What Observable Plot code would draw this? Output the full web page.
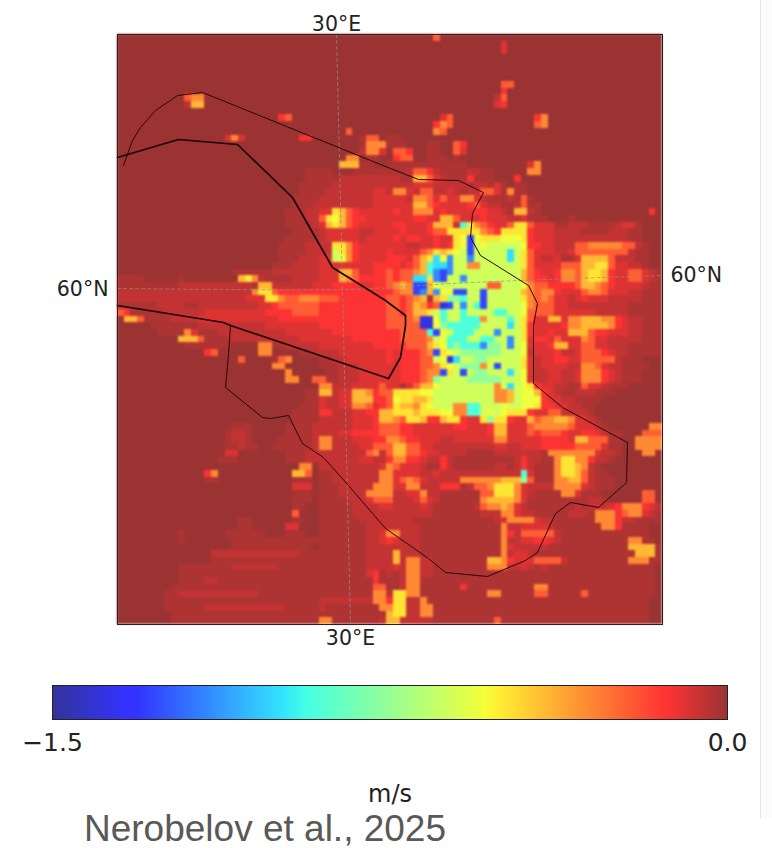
<!DOCTYPE html>
<html><head><meta charset="utf-8">
<script src="https://cdn.jsdelivr.net/npm/d3@7"></script>
<script src="https://cdn.jsdelivr.net/npm/@observablehq/plot@0.6"></script>
<style>
html,body{margin:0;padding:0;background:#fff;width:772px;height:848px;overflow:hidden}
#map,#bar{position:absolute;left:0}
#map{top:0}#bar{top:660px}
#map g[aria-label="rect"]{filter:blur(.8px)}
#cap{position:absolute;left:84px;top:811px;font:37px/36px "Liberation Sans",Arial,sans-serif;color:#595959;white-space:nowrap}
#edge{position:absolute;left:760px;top:0;width:12px;height:818px;background:#fbfbfb;border-left:1px solid #e6e6e6}
</style></head><body>
<div id="edge"></div><div id="map"></div><div id="bar"></div><div id="cap">Nerobelov et al., 2025</div>
<script>
// Wind-speed change, one character per grid cell (index into levelValues)
const gridRows = [
"0000000000 0000000000 0000000000 0000000000 0000000500 0000000000 0000000000 00000000000",
"0000000000 0000000000 0000000000 0000000000 0000000000 0000000300 0000000000 00000000000",
"0000000000 0000000000 0000000000 0000000000 0000000000 0000000300 0000000000 00000000000",
"0000000000 0000000000 0000000000 0000000000 0000000000 0000000000 0000000000 00000000000",
"0000000000 0000000000 0000000000 0000000000 0000000000 0000000000 0000000000 00000000000",
"0000000000 0000000000 0000000000 0000000000 0000000000 0000000000 0000000000 00000000000",
"0000000000 0000000000 0000000000 0000000000 0000000000 0000000000 0000000000 00000000000",
"0000000000 0000000000 0000000000 0000000000 0000000000 0000000550 0000000000 00000000000",
"0000000000 0000000000 0000000000 0000000000 0000000000 0000000400 0000000000 00000000000",
"0000000000 5660000000 0000000000 0000000000 0000000000 0000002500 0000000000 00000000000",
"0000000000 2770000000 0000000000 0000000000 0000000000 0000003400 0000000000 00000000000",
"0000000000 0000000000 0000000000 0000000000 0000000000 0000000000 0000000000 00000000000",
"0000000000 0000000000 0000450000 0000000000 0000000035 0000000000 0046000000 00000000000",
"0000000000 0000000000 0000000000 0000000000 0000000465 0000000000 0056000000 00000000000",
"0000000000 0000000000 0000000000 0000500000 0000000650 0000000000 0000000000 00000000000",
"0000000000 0000003630 0000000440 0000001550 1100000000 0000000000 0000000000 00000000000",
"0000000000 0000000000 0000000000 0000001666 1110001100 5400000000 0000000000 00000000000",
"0000000000 0000000000 0000000000 0000002663 0554001100 5300000000 0000000000 00000000000",
"0000000000 0000000000 0000000000 0000660110 0455001110 1000000000 0000000000 00000000000",
"0000000000 0000000000 0000000000 0007771100 1111111111 1100000000 0360000000 00000000000",
"0000000000 0000000000 0000000011 1100011111 1112554211 1122110000 0660000000 00000000000",
"0000000000 0000000000 0000000011 1112222222 2211775321 1141110004 0000000000 00000000000",
"0000000000 0000000000 0000000111 1122222222 2222333222 2212213101 1000000000 00000000000",
"0000000000 0000000000 0000000111 1222222233 2663255223 2122553161 1000000000 00000000000",
"0000000000 0000000000 0000001111 2222222233 3332665353 3663211121 5100000000 00000000000",
"0000000000 0000000000 0000001112 2222222233 3333775433 3345322112 5110000000 00000000000",
"0000000000 0000000000 0000011122 3387543333 3433666343 3334433217 7210000000 00000000040",
"0000000000 0000000000 0000011122 5897544333 3333443377 5333433322 3111000100 00000000000",
"0000000000 0000000000 0000011112 3787543333 3443334777 2c86543358 8533311222 11112331000",
"0000000000 0000000000 0000001111 2333332233 3343334558 8888654888 8433322221 11122211000",
"0000000000 0000000000 0000011111 2333332333 3434433433 89f9888999 8433322222 22222211000",
"0000000000 0000000000 0000111122 2288643333 3332233434 89fa9aaaaa 9443322255 66666552100",
"0000000000 0000000000 0000111122 22a8643333 4333356878 9afaaaaada 8533322355 55555521100",
"0000000000 0000000000 0000111222 33a9643333 4443578d9e aaeaaaaada 8532231137 77752221100",
"0000000000 0000000000 0001112222 3333333344 443457cdde aa66aaaaaa 8533335557 78853322100",
"0000000000 0000000111 1112222222 3337753344 545567cefe aaaaaaaaaa 7543346657 88743355321",
"1111000001 0000000078 6211112222 3337654444 5455dd8efa aeaaaaaaaa 7544346657 88743355321",
"1111111112 2222222222 1772222223 3344443344 5676ff79aa aaaaa55aaa 9655444457 76543333211",
"2222222222 2222222222 6885444444 4444444444 4566fe7e99 ffaafaaaaa 7656643335 66533322111",
"2222222222 2222222223 3388655666 5554444444 554567178b bcaafaaaaa 8656533234 33322222111",
"1111112222 1122222222 2334555555 4444444444 55457645gf aeacfaaaaa 9655533222 22222211111",
"5411111222 2223333333 3344445555 4444444444 5545778aca acaaaaccaa 9555533333 32222211111",
"0775111122 2233333333 3333444444 4444444444 55556gg9ca accc6aaaca 8533773667 77664322111",
"0000011111 1122222222 2233333333 4444444444 55555gg9bc ccccaaaada 8433334667 77764322111",
"0000001111 6311122222 2222233333 3344444444 445555cf9a cccaaaeaaa 8433433777 54433322111",
"0000000007 7751111222 2222222333 3333344444 4455556a9c ccaaccaaea 8344353336 53322222111",
"0000000000 1111111000 0661122222 3333333344 444555789c bcccebbaea 9333477335 53322211111",
"0000000000 0004500000 0660000112 2223333333 4344456f89 abbbbbbaaa 9233342235 55432211111",
"0000000000 0000000050 0001560000 1122333333 4344455a9g daabbaaaaa 8323344335 55552111000",
"0000000000 0000000000 0006600000 1112223333 3344455689 abbb6afaaa 8323333226 65322111100",
"0000000000 0000000000 0000060000 0112223333 33444566f8 afabbaaada 9322332236 66432111000",
"0000000000 0000000000 0000066005 5112223333 3344456baa aabbbbbaaa 9322332236 66432111000",
"0000000000 0000000000 0000000000 6622233335 33135779aa aaaaaa6ada 9843322115 33211100000",
"0000000000 0000000000 0000000011 7723377645 5888899aaa aaaaaa667a 9974321122 21110000000",
"0000000000 0000000000 0000000011 3223377744 5988778aaa aaaaaa667a 9994332211 11000000000",
"0000000000 0000000000 0000000111 3223366534 5877689aaa 66ccaaa9aa 9984433221 10000000000",
"0000000000 0000000000 0000001111 4422233447 7888788899 66cca9a988 8433552222 10000000000",
"0000000000 0000000000 0000001111 2222233347 7658874478 84338b8843 3756677633 21000000000",
"0000000000 0000000111 0000011112 2222233345 5544333333 4433347733 3566666533 32100000066",
"0000000000 0000001221 0000011112 2223344445 5544333333 3333347733 3545554334 43211000555",
"0000000000 0000001221 0000111112 6622233344 6654433322 3333336633 3334444377 55511006666",
"0000000000 0000001121 1001111112 6622223355 5775533222 2222223322 3334444455 55311006666",
"0000000000 0000003300 0000011122 2222222562 5775543322 2211112222 2221666666 63221000660",
"0000000000 0000011100 0000011122 2222223322 4664432242 1111111112 4221168866 42210000000",
"0000000000 0000000000 0000000660 2222222223 6533321142 1111112212 4211168876 21000000000",
"0000000000 0004600000 0000007750 1122222226 6333322322 2222222222 c311168875 21100000000",
"0000000000 0001100000 0000001110 1122222226 6356532222 2666666777 b511166775 21110000000",
"0000000000 0000000000 0000003330 1112222266 6336622244 4125568886 3222266663 21110000000",
"0000000000 0000000000 0000001110 1112222666 6223362211 1111558886 3211116631 11000000550",
"0000000000 0000000000 0000001110 1111222355 5222353211 1111677776 3111111111 22100000550",
"0000000000 0000000000 0000001100 1111122223 3222232111 1112566763 2111111121 22234666432",
"0000000000 0000000000 0000005000 1111122222 2222222111 1111222663 2211111222 16664566321",
"0000000000 0000000011 0000001100 1111112222 2222111111 1111112366 6632211111 16664221111",
"0000000000 0000000011 0000033000 1111111222 2222211111 1111111622 3333211111 11664111100",
"0000000001 0000001111 1100011100 1111111223 6622211111 1111111642 5555521111 11111111100",
"0000000001 0000000111 1111111111 1111111223 4322211111 1111111622 3344321111 11111166110",
"0000000000 0000000111 1111111110 1111111222 2222211111 1111111632 2222111111 11111177771",
"0000000000 0000222222 2222222111 1111111222 2722211111 1111111623 3211111111 11111117771",
"0000000000 0000111111 1111111111 1111111222 2726622111 1111177643 3355552111 11111166611",
"0000000001 1111111222 2222111111 1111111222 2326622111 1111166622 3212111111 11111111110",
"0000000001 1111111111 1111111111 1111111341 2126622111 1111111111 1111111111 11111111110",
"0000000001 1112211111 1111111111 1111111141 1126611111 1111111111 1111111111 11111111110",
"0000000011 1111111111 1111111111 1111111155 1126611111 1411111111 1166111111 11111111110",
"0000000112 2222222222 2111111111 1111111166 2886611111 1111166111 1155111115 11111111110",
"0000000111 1111111111 1111111111 2222222266 4882261111 1111111111 1111111111 11111111100",
"0000000111 1112222222 2222211111 2111111116 6882266111 1111111111 1111111111 11111111100",
"0000000011 1111111111 1111111111 1111111111 7882266111 1111111111 1111111111 11111111100",
"0000000011 1111111111 1111111111 6611111112 7722222111 1111115111 1111111111 11111111100"
];
const levelChars  = "0123456789abcdefg";
const levelValues = [-0.003,-0.028,-0.055,-0.09,-0.13,-0.22,-0.31,-0.40,-0.49,-0.55,-0.62,-0.76,-0.91,-1.0,-1.15,-1.28,-1.38];

// Jet with 80 % opacity over white, as on the colour bar
const jetValues = [-1.5,-1.335,-1.3125,-0.99,-0.9375,-0.54,-0.51,-0.165,-0.135,0];
const jetColors = ["#333399","#3333ff","#3333ff","#33e2ff","#43ffe5","#f3ff39","#ffef33","#ff4133","#ff3333","#993333"];

// Outlines, in map units from the top left corner
const thinX = [6,15,23,38,60,85,273,301,341,366,355,353,363,411,420,416,416,445,510,509,481,453,438,420,408,370,328,311,268,231,206,185,171,153,145,108,111,113];
const thinY = [131,106,93,76,61,58,134,145,146,158,179,203,221,251,269,291,349,373,408,448,473,468,479,518,526,542,538,524,494,451,423,409,381,384,383,353,320,291];
const thickAX = [0,61,120,175,215,268,288,288,283,271];
const thickAY = [123,105,110,163,233,266,281,291,323,344];
const thickBX = [271,113,106,0];
const thickBY = [344,291,288,271];
const gridLonX = [219,233]; const gridLonY = [0,590];
const gridLatX = [0,223,335,545]; const gridLatY = [254,255,249,241];

const lonLabels = ["30°E","30°E"]; const lonLabelX = [219,233]; const lonLabelY = [-10,604];
const latLabelLeft = ["60°N"]; const latLabelRight = ["60°N"];

const cbTicks = [-1.5,0]; const cbLabels = ["−1.5","0.0"]; const cbUnit = ["m/s"];

const W = 545, H = 590, nC = 81, nR = gridRows.length;
const cw = W / nC, ch = H / nR;
const cells = gridRows.flatMap((s, r) => {
  const t = s.replace(/ /g, "").padEnd(nC, "0").slice(0, nC);
  return Array.from(t, (k, c) => ({c, r, v: levelValues[levelChars.indexOf(k)]}));
});
const pts = (X, Y) => X.map((x, i) => [x, Y[i]]);
const colour = {type: "linear", domain: jetValues, range: jetColors, clamp: true};
const tickText = {fontFamily: "DejaVu Sans", fontSize: 20.5, fill: "#222"};

const map = Plot.plot({
  width: 772, height: 660,
  marginLeft: 117, marginRight: 110, marginTop: 34, marginBottom: 36,
  x: {domain: [0, W], axis: null},
  y: {domain: [0, H], reverse: true, axis: null},
  color: colour,
  marks: [
    Plot.rect(cells, {x1: d => d.c * cw, x2: d => (d.c + 1) * cw, y1: d => d.r * ch, y2: d => (d.r + 1) * ch, fill: d => d.v, shapeRendering: "crispEdges"}),
    Plot.line(pts(gridLonX, gridLonY), {stroke: "#8f8f8f", strokeWidth: 1, strokeDasharray: "3,3", strokeOpacity: .7}),
    Plot.line(pts(gridLatX, gridLatY), {stroke: "#8f8f8f", strokeWidth: 1, strokeDasharray: "3,3", strokeOpacity: .7, curve: "natural"}),
    Plot.line(pts(thinX, thinY), {stroke: "#2a0505", strokeWidth: 1}),
    Plot.line(pts(thickAX, thickAY), {stroke: "#1a0303", strokeWidth: 1.7}),
    Plot.line(pts(thickBX, thickBY), {stroke: "#1a0303", strokeWidth: 1.7}),
    Plot.frame({stroke: "#222", strokeWidth: 1}),
    Plot.text(lonLabels, {x: (d, i) => lonLabelX[i], y: (d, i) => lonLabelY[i], text: d => d, ...tickText}),
    Plot.text(latLabelLeft, {x: [-9], y: [255], text: d => d, textAnchor: "end", ...tickText}),
    Plot.text(latLabelRight, {x: [553], y: [241], text: d => d, textAnchor: "start", ...tickText})
  ]
});
document.getElementById("map").append(map);

const steps = 255;
const ramp = d3.range(steps).map(i => ({a: -1.5 + 1.5 * i / steps, b: -1.5 + 1.5 * (i + 1) / steps}));
const bar = Plot.plot({
  width: 772, height: 150,
  marginLeft: 52, marginRight: 45, marginTop: 25, marginBottom: 91,
  x: {domain: [-1.5, 0], axis: null},
  y: {domain: [0, 1], axis: null},
  color: colour,
  marks: [
    Plot.rectY(ramp, {x1: "a", x2: "b", y1: 0, y2: 1, fill: d => (d.a + d.b) / 2, shapeRendering: "crispEdges"}),
    Plot.frame({stroke: "#222", strokeWidth: 1}),
    Plot.tickX(cbTicks, {x: d => d, y1: 0, y2: -0.18, stroke: "#222"}),
    Plot.text(cbLabels, {x: (d, i) => cbTicks[i], y: -0.68, text: d => d, fontFamily: "DejaVu Sans", fontSize: 25, fill: "#222"}),
    Plot.text(cbUnit, {x: -0.75 , y: -2.2, text: d => d, fontFamily: "DejaVu Sans", fontSize: 24, fill: "#222"})
  ]
});
document.getElementById("bar").append(bar);
</script></body></html>
